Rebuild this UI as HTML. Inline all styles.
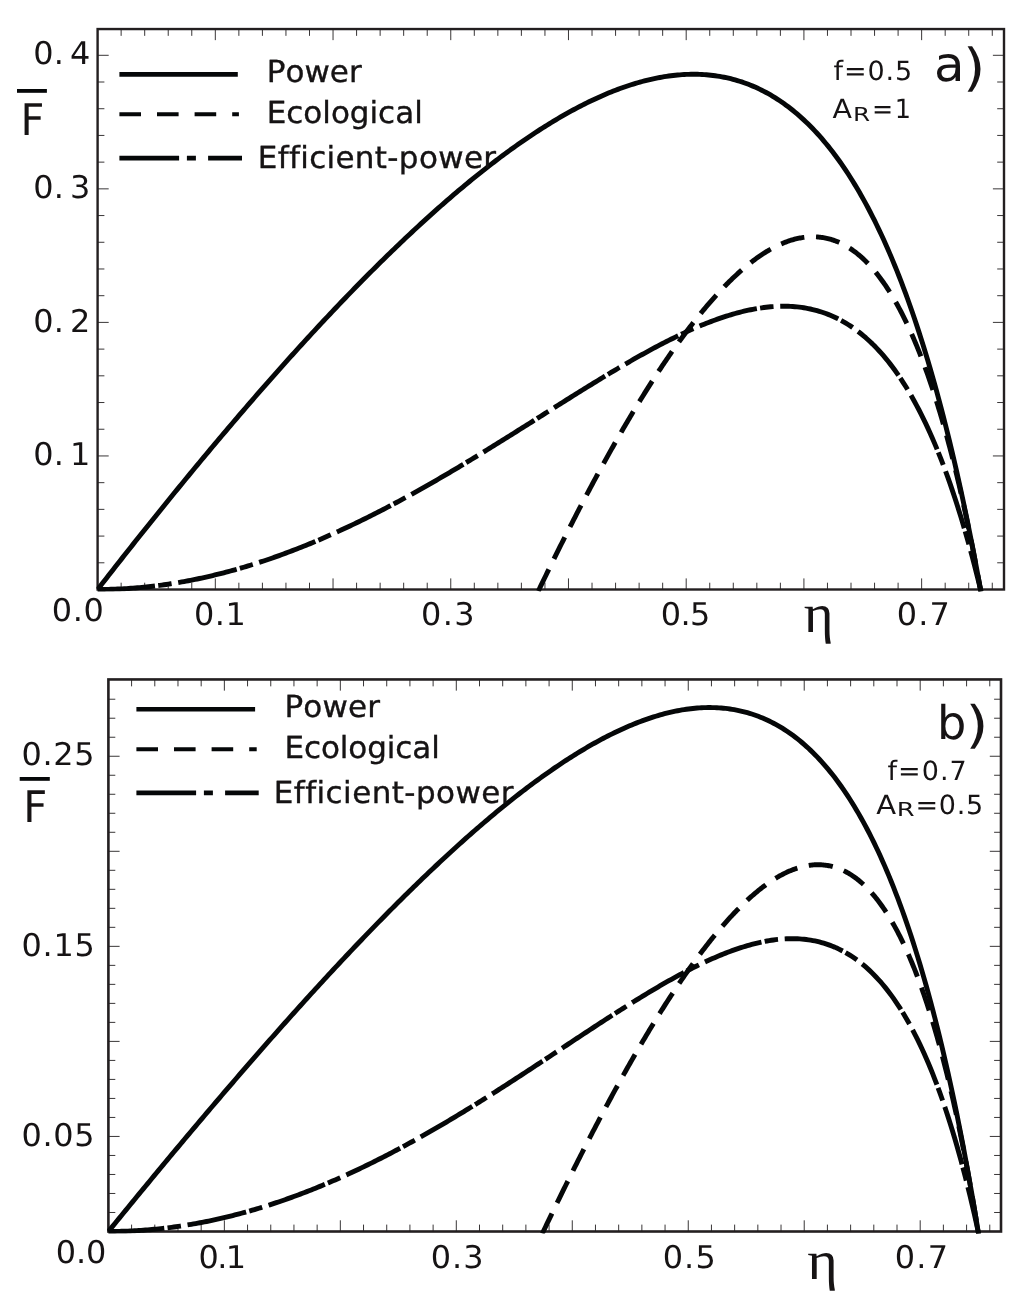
<!DOCTYPE html>
<html lang="en"><head><meta charset="utf-8"><title>Objective functions vs efficiency</title>
<style>
html,body{margin:0;padding:0;background:#fff;overflow:hidden}
svg{display:block;will-change:transform;filter:opacity(1)}
text{fill:#161314;text-rendering:geometricPrecision;font-kerning:none;font-variant-ligatures:none;white-space:pre}
</style></head><body>
<svg width="1024" height="1309" viewBox="0 0 1024 1309">
<rect width="1024" height="1309" fill="#fff"/>
<rect x="97.60" y="29.05" width="906.40" height="560.45" fill="none" stroke="#231f20" stroke-width="2.4"/>
<path d="M121.14 589.50v-6.80M121.14 29.05v6.80M144.69 589.50v-6.80M144.69 29.05v6.80M168.23 589.50v-6.80M168.23 29.05v6.80M191.78 589.50v-6.80M191.78 29.05v6.80M215.32 589.50v-11.10M215.32 29.05v11.10M238.86 589.50v-6.80M238.86 29.05v6.80M262.41 589.50v-6.80M262.41 29.05v6.80M285.95 589.50v-6.80M285.95 29.05v6.80M309.50 589.50v-6.80M309.50 29.05v6.80M333.04 589.50v-11.10M333.04 29.05v11.10M356.58 589.50v-6.80M356.58 29.05v6.80M380.13 589.50v-6.80M380.13 29.05v6.80M403.67 589.50v-6.80M403.67 29.05v6.80M427.22 589.50v-6.80M427.22 29.05v6.80M450.76 589.50v-11.10M450.76 29.05v11.10M474.30 589.50v-6.80M474.30 29.05v6.80M497.85 589.50v-6.80M497.85 29.05v6.80M521.39 589.50v-6.80M521.39 29.05v6.80M544.94 589.50v-6.80M544.94 29.05v6.80M568.48 589.50v-11.10M568.48 29.05v11.10M592.02 589.50v-6.80M592.02 29.05v6.80M615.57 589.50v-6.80M615.57 29.05v6.80M639.11 589.50v-6.80M639.11 29.05v6.80M662.66 589.50v-6.80M662.66 29.05v6.80M686.20 589.50v-11.10M686.20 29.05v11.10M709.74 589.50v-6.80M709.74 29.05v6.80M733.29 589.50v-6.80M733.29 29.05v6.80M756.83 589.50v-6.80M756.83 29.05v6.80M780.38 589.50v-6.80M780.38 29.05v6.80M803.92 589.50v-11.10M803.92 29.05v11.10M827.46 589.50v-6.80M827.46 29.05v6.80M851.01 589.50v-6.80M851.01 29.05v6.80M874.55 589.50v-6.80M874.55 29.05v6.80M898.10 589.50v-6.80M898.10 29.05v6.80M921.64 589.50v-11.10M921.64 29.05v11.10M945.18 589.50v-6.80M945.18 29.05v6.80M968.73 589.50v-6.80M968.73 29.05v6.80M992.27 589.50v-6.80M992.27 29.05v6.80M97.60 562.79h6.80M1004.00 562.79h-6.80M97.60 536.08h6.80M1004.00 536.08h-6.80M97.60 509.37h6.80M1004.00 509.37h-6.80M97.60 482.66h6.80M1004.00 482.66h-6.80M97.60 455.95h11.10M1004.00 455.95h-11.10M97.60 429.24h6.80M1004.00 429.24h-6.80M97.60 402.53h6.80M1004.00 402.53h-6.80M97.60 375.82h6.80M1004.00 375.82h-6.80M97.60 349.11h6.80M1004.00 349.11h-6.80M97.60 322.40h11.10M1004.00 322.40h-11.10M97.60 295.69h6.80M1004.00 295.69h-6.80M97.60 268.98h6.80M1004.00 268.98h-6.80M97.60 242.27h6.80M1004.00 242.27h-6.80M97.60 215.56h6.80M1004.00 215.56h-6.80M97.60 188.85h11.10M1004.00 188.85h-11.10M97.60 162.14h6.80M1004.00 162.14h-6.80M97.60 135.43h6.80M1004.00 135.43h-6.80M97.60 108.72h6.80M1004.00 108.72h-6.80M97.60 82.01h6.80M1004.00 82.01h-6.80M97.60 55.30h11.10M1004.00 55.30h-11.10" fill="none" stroke="#231f20" stroke-width="0.9"/>
<clipPath id="ca"><rect x="96.4" y="28" width="908.8" height="563.4"/></clipPath><clipPath id="cb"><rect x="107.1" y="678" width="895.2" height="555.5"/></clipPath>
<polyline points="97.60,589.50 99.81,589.49 102.03,589.48 104.24,589.45 106.46,589.41 108.67,589.37 110.88,589.31 113.10,589.24 115.31,589.16 117.52,589.07 119.74,588.97 121.95,588.86 124.17,588.73 126.38,588.60 128.59,588.46 130.81,588.31 133.02,588.14 135.23,587.97 137.45,587.78 139.66,587.59 141.88,587.38 144.09,587.17 146.30,586.94 148.52,586.71 150.73,586.46 152.94,586.21 155.16,585.94 157.37,585.66 159.58,585.38 161.80,585.08 164.01,584.77 166.23,584.46 168.44,584.13 170.65,583.79 172.87,583.44 175.08,583.09 177.29,582.72 179.51,582.34 181.72,581.96 183.94,581.56 186.15,581.15 188.36,580.74 190.58,580.31 192.79,579.88 195.00,579.43 197.22,578.98 199.43,578.51 201.65,578.04 203.86,577.55 206.07,577.06 208.29,576.56 210.50,576.04 212.71,575.52 214.93,574.99 217.14,574.45 219.35,573.90 221.57,573.34 223.78,572.77 226.00,572.19 228.21,571.60 230.42,571.00 232.64,570.40 234.85,569.78 237.06,569.16 239.28,568.52 241.49,567.88 243.71,567.23 245.92,566.57 248.13,565.90 250.35,565.22 252.56,564.53 254.77,563.83 256.99,563.13 259.20,562.41 261.42,561.69 263.63,560.96 265.84,560.22 268.06,559.47 270.27,558.71 272.48,557.94 274.70,557.16 276.91,556.38 279.13,555.59 281.34,554.79 283.55,553.98 285.77,553.16 287.98,552.33 290.19,551.50 292.41,550.65 294.62,549.80 296.83,548.94 299.05,548.08 301.26,547.20 303.48,546.32 305.69,545.42 307.90,544.53 310.12,543.62 312.33,542.70 314.54,541.78 316.76,540.85 318.97,539.91 321.19,538.96 323.40,538.01 325.61,537.04 327.83,536.07 330.04,535.09 332.25,534.11 334.47,533.12 336.68,532.12 338.90,531.11 341.11,530.09 343.32,529.07 345.54,528.04 347.75,527.01 349.96,525.96 352.18,524.91 354.39,523.86 356.60,522.79 358.82,521.72 361.03,520.64 363.25,519.55 365.46,518.46 367.67,517.36 369.89,516.26 372.10,515.15 374.31,514.03 376.53,512.90 378.74,511.77 380.96,510.63 383.17,509.49 385.38,508.34 387.60,507.18 389.81,506.02 392.02,504.85 394.24,503.67 396.45,502.49 398.67,501.31 400.88,500.11 403.09,498.91 405.31,497.71 407.52,496.50 409.73,495.28 411.95,494.06 414.16,492.84 416.37,491.60 418.59,490.37 420.80,489.12 423.02,487.88 425.23,486.62 427.44,485.37 429.66,484.10 431.87,482.84 434.08,481.56 436.30,480.29 438.51,479.00 440.73,477.72 442.94,476.43 445.15,475.13 447.37,473.83 449.58,472.53 451.79,471.22 454.01,469.90 456.22,468.59 458.44,467.27 460.65,465.94 462.86,464.61 465.08,463.28 467.29,461.95 469.50,460.61 471.72,459.26 473.93,457.92 476.14,456.57 478.36,455.22 480.57,453.86 482.79,452.50 485.00,451.14 487.21,449.78 489.43,448.41 491.64,447.04 493.85,445.67 496.07,444.29 498.28,442.92 500.50,441.54 502.71,440.16 504.92,438.77 507.14,437.39 509.35,436.00 511.56,434.61 513.78,433.22 515.99,431.83 518.21,430.44 520.42,429.04 522.63,427.65 524.85,426.25 527.06,424.85 529.27,423.46 531.49,422.06 533.70,420.66 535.91,419.26 538.13,417.86 540.34,416.46 542.56,415.06 544.77,413.66 546.98,412.26 549.20,410.86 551.41,409.46 553.62,408.06 555.84,406.67 558.05,405.27 560.27,403.87 562.48,402.48 564.69,401.09 566.91,399.70 569.12,398.31 571.33,396.92 573.55,395.53 575.76,394.15 577.98,392.77 580.19,391.39 582.40,390.01 584.62,388.64 586.83,387.27 589.04,385.90 591.26,384.54 593.47,383.18 595.68,381.82 597.90,380.47 600.11,379.12 602.33,377.77 604.54,376.43 606.75,375.10 608.97,373.76 611.18,372.44 613.39,371.12 615.61,369.80 617.82,368.49 620.04,367.19 622.25,365.89 624.46,364.59 626.68,363.31 628.89,362.03 631.10,360.75 633.32,359.49 635.53,358.23 637.75,356.98 639.96,355.73 642.17,354.50 644.39,353.27 646.60,352.05 648.81,350.84 651.03,349.64 653.24,348.45 655.45,347.27 657.67,346.09 659.88,344.93 662.10,343.78 664.31,342.63 666.52,341.50 668.74,340.38 670.95,339.27 673.16,338.18 675.38,337.09 677.59,336.02 679.81,334.96 682.02,333.91 684.23,332.87 686.45,331.85 688.66,330.84 690.87,329.85 693.09,328.87 695.30,327.91 697.52,326.96 699.73,326.03 701.94,325.11 704.16,324.21 706.37,323.32 708.58,322.46 710.80,321.61 713.01,320.77 715.22,319.96 717.44,319.16 719.65,318.39 721.87,317.63 724.08,316.89 726.29,316.17 728.51,315.48 730.72,314.80 732.93,314.15 735.15,313.51 737.36,312.90 739.58,312.32 741.79,311.75 744.00,311.22 746.22,310.70 748.43,310.21 750.64,309.75 752.86,309.31 755.07,308.90 757.29,308.51 759.50,308.15 761.71,307.83 763.93,307.52 766.14,307.25 768.35,307.01 770.57,306.80 772.78,306.62 774.99,306.48 777.21,306.36 779.42,306.28 781.64,306.23 783.85,306.22 786.06,306.24 788.28,306.30 790.49,306.39 792.70,306.53 794.92,306.70 797.13,306.91 799.35,307.15 801.56,307.44 803.77,307.77 805.99,308.15 808.20,308.56 810.41,309.02 812.63,309.53 814.84,310.08 817.06,310.67 819.27,311.32 821.48,312.01 823.70,312.75 825.91,313.54 828.12,314.39 830.34,315.28 832.55,316.23 834.77,317.24 836.98,318.30 839.19,319.42 841.41,320.59 843.62,321.83 845.83,323.12 848.05,324.48 850.26,325.90 852.47,327.39 854.69,328.94 856.90,330.55 859.12,332.24 861.33,334.00 863.54,335.82 865.76,337.72 867.97,339.70 870.18,341.75 872.40,343.87 874.61,346.08 876.83,348.37 879.04,350.74 881.25,353.19 883.47,355.73 885.68,358.36 887.89,361.08 890.11,363.89 892.32,366.79 894.54,369.79 896.75,372.89 898.96,376.09 901.18,379.39 903.39,382.79 905.60,386.31 907.82,389.93 910.03,393.66 912.24,397.51 914.46,401.47 916.67,405.55 918.89,409.76 921.10,414.09 923.31,418.54 925.53,423.13 927.74,427.86 929.95,432.71 932.17,437.71 934.38,442.86 936.60,448.15 938.81,453.59 941.02,459.18 943.24,464.93 945.45,470.85 947.66,476.93 949.88,483.17 952.09,489.60 954.31,496.20 956.52,502.98 958.73,509.95 960.95,517.11 963.16,524.47 965.37,532.03 967.59,539.79 969.80,547.77 972.01,555.96 974.23,564.38 976.44,573.03 978.66,581.92 980.87,591.04" fill="none" stroke="#050708" stroke-width="4.9" stroke-linejoin="round" stroke-dasharray="60 3.3 13.5 6.7" stroke-dashoffset="2.5" clip-path="url(#ca)"/>
<polyline points="538.31,591.03 539.42,588.72 540.53,586.42 541.64,584.12 542.75,581.82 543.86,579.53 544.97,577.25 546.08,574.96 547.19,572.69 548.30,570.41 549.41,568.15 550.52,565.88 551.62,563.62 552.73,561.37 553.84,559.12 554.95,556.87 556.06,554.63 557.17,552.40 558.28,550.17 559.39,547.94 560.50,545.72 561.61,543.50 562.72,541.29 563.83,539.09 564.93,536.88 566.04,534.69 567.15,532.49 568.26,530.31 569.37,528.12 570.48,525.95 571.59,523.78 572.70,521.61 573.81,519.45 574.92,517.29 576.03,515.14 577.14,512.99 578.24,510.85 579.35,508.71 580.46,506.58 581.57,504.46 582.68,502.34 583.79,500.22 584.90,498.11 586.01,496.01 587.12,493.91 588.23,491.81 589.34,489.73 590.45,487.64 591.55,485.56 592.66,483.49 593.77,481.43 594.88,479.37 595.99,477.31 597.10,475.26 598.21,473.22 599.32,471.18 600.43,469.15 601.54,467.12 602.65,465.10 603.76,463.08 604.86,461.07 605.97,459.07 607.08,457.07 608.19,455.08 609.30,453.10 610.41,451.12 611.52,449.14 612.63,447.18 613.74,445.21 614.85,443.26 615.96,441.31 617.07,439.37 618.17,437.43 619.28,435.50 620.39,433.57 621.50,431.66 622.61,429.74 623.72,427.84 624.83,425.94 625.94,424.05 627.05,422.16 628.16,420.28 629.27,418.41 630.37,416.54 631.48,414.68 632.59,412.83 633.70,410.98 634.81,409.14 635.92,407.31 637.03,405.48 638.14,403.66 639.25,401.85 640.36,400.05 641.47,398.25 642.58,396.46 643.68,394.67 644.79,392.89 645.90,391.12 647.01,389.36 648.12,387.60 649.23,385.85 650.34,384.11 651.45,382.38 652.56,380.65 653.67,378.93 654.78,377.22 655.89,375.51 656.99,373.82 658.10,372.13 659.21,370.44 660.32,368.77 661.43,367.10 662.54,365.44 663.65,363.79 664.76,362.15 665.87,360.51 666.98,358.88 668.09,357.26 669.20,355.65 670.30,354.05 671.41,352.45 672.52,350.86 673.63,349.28 674.74,347.71 675.85,346.15 676.96,344.59 678.07,343.04 679.18,341.51 680.29,339.98 681.40,338.45 682.51,336.94 683.61,335.44 684.72,333.94 685.83,332.46 686.94,330.98 688.05,329.51 689.16,328.05 690.27,326.60 691.38,325.15 692.49,323.72 693.60,322.29 694.71,320.88 695.82,319.47 696.92,318.08 698.03,316.69 699.14,315.31 700.25,313.94 701.36,312.58 702.47,311.23 703.58,309.89 704.69,308.56 705.80,307.24 706.91,305.93 708.02,304.63 709.13,303.33 710.23,302.05 711.34,300.78 712.45,299.52 713.56,298.27 714.67,297.03 715.78,295.80 716.89,294.57 718.00,293.36 719.11,292.16 720.22,290.97 721.33,289.80 722.44,288.63 723.54,287.47 724.65,286.32 725.76,285.19 726.87,284.06 727.98,282.95 729.09,281.84 730.20,280.75 731.31,279.67 732.42,278.60 733.53,277.54 734.64,276.50 735.75,275.46 736.85,274.44 737.96,273.43 739.07,272.42 740.18,271.44 741.29,270.46 742.40,269.49 743.51,268.54 744.62,267.60 745.73,266.67 746.84,265.76 747.95,264.85 749.06,263.96 750.16,263.08 751.27,262.22 752.38,261.36 753.49,260.52 754.60,259.69 755.71,258.88 756.82,258.08 757.93,257.29 759.04,256.51 760.15,255.75 761.26,255.00 762.37,254.26 763.47,253.54 764.58,252.83 765.69,252.14 766.80,251.46 767.91,250.79 769.02,250.14 770.13,249.50 771.24,248.88 772.35,248.26 773.46,247.67 774.57,247.09 775.67,246.52 776.78,245.97 777.89,245.43 779.00,244.91 780.11,244.40 781.22,243.91 782.33,243.44 783.44,242.98 784.55,242.53 785.66,242.10 786.77,241.69 787.88,241.29 788.98,240.91 790.09,240.54 791.20,240.19 792.31,239.86 793.42,239.54 794.53,239.24 795.64,238.95 796.75,238.69 797.86,238.44 798.97,238.20 800.08,237.99 801.19,237.79 802.29,237.61 803.40,237.44 804.51,237.30 805.62,237.17 806.73,237.06 807.84,236.97 808.95,236.89 810.06,236.84 811.17,236.80 812.28,236.78 813.39,236.78 814.50,236.80 815.60,236.84 816.71,236.90 817.82,236.97 818.93,237.07 820.04,237.19 821.15,237.32 822.26,237.48 823.37,237.66 824.48,237.85 825.59,238.07 826.70,238.31 827.81,238.57 828.91,238.85 830.02,239.15 831.13,239.47 832.24,239.81 833.35,240.18 834.46,240.56 835.57,240.97 836.68,241.40 837.79,241.86 838.90,242.33 840.01,242.83 841.12,243.36 842.22,243.90 843.33,244.47 844.44,245.06 845.55,245.68 846.66,246.32 847.77,246.98 848.88,247.67 849.99,248.38 851.10,249.12 852.21,249.88 853.32,250.67 854.43,251.48 855.53,252.32 856.64,253.18 857.75,254.07 858.86,254.99 859.97,255.93 861.08,256.90 862.19,257.90 863.30,258.92 864.41,259.97 865.52,261.05 866.63,262.16 867.74,263.29 868.84,264.46 869.95,265.65 871.06,266.87 872.17,268.12 873.28,269.40 874.39,270.70 875.50,272.04 876.61,273.41 877.72,274.81 878.83,276.24 879.94,277.70 881.05,279.20 882.15,280.72 883.26,282.28 884.37,283.86 885.48,285.48 886.59,287.14 887.70,288.82 888.81,290.54 889.92,292.30 891.03,294.09 892.14,295.91 893.25,297.77 894.36,299.66 895.46,301.58 896.57,303.55 897.68,305.55 898.79,307.58 899.90,309.65 901.01,311.76 902.12,313.91 903.23,316.10 904.34,318.32 905.45,320.58 906.56,322.88 907.67,325.22 908.77,327.60 909.88,330.02 910.99,332.48 912.10,334.98 913.21,337.52 914.32,340.11 915.43,342.73 916.54,345.40 917.65,348.11 918.76,350.87 919.87,353.67 920.97,356.51 922.08,359.40 923.19,362.33 924.30,365.31 925.41,368.34 926.52,371.41 927.63,374.53 928.74,377.70 929.85,380.91 930.96,384.18 932.07,387.49 933.18,390.86 934.28,394.27 935.39,397.73 936.50,401.25 937.61,404.82 938.72,408.44 939.83,412.11 940.94,415.84 942.05,419.62 943.16,423.46 944.27,427.35 945.38,431.30 946.49,435.31 947.59,439.37 948.70,443.49 949.81,447.67 950.92,451.91 952.03,456.21 953.14,460.57 954.25,464.99 955.36,469.47 956.47,474.02 957.58,478.63 958.69,483.30 959.80,488.04 960.90,492.85 962.01,497.72 963.12,502.66 964.23,507.67 965.34,512.74 966.45,517.89 967.56,523.11 968.67,528.39 969.78,533.76 970.89,539.19 972.00,544.70 973.11,550.28 974.21,555.94 975.32,561.68 976.43,567.49 977.54,573.39 978.65,579.36 979.76,585.42 980.87,591.55" fill="none" stroke="#050708" stroke-width="4.9" stroke-linejoin="round" stroke-dasharray="24.1 11.7" stroke-dashoffset="0" clip-path="url(#ca)"/>
<polyline points="97.60,589.50 99.81,586.65 102.03,583.81 104.24,580.97 106.45,578.14 108.67,575.30 110.88,572.47 113.10,569.65 115.31,566.83 117.52,564.01 119.74,561.19 121.95,558.38 124.16,555.58 126.38,552.77 128.59,549.97 130.81,547.18 133.02,544.38 135.23,541.59 137.45,538.81 139.66,536.03 141.87,533.25 144.09,530.48 146.30,527.71 148.52,524.94 150.73,522.18 152.94,519.42 155.16,516.67 157.37,513.92 159.58,511.17 161.80,508.43 164.01,505.69 166.22,502.96 168.44,500.23 170.65,497.51 172.87,494.79 175.08,492.07 177.29,489.36 179.51,486.65 181.72,483.94 183.93,481.24 186.15,478.55 188.36,475.85 190.58,473.17 192.79,470.48 195.00,467.81 197.22,465.13 199.43,462.46 201.64,459.80 203.86,457.14 206.07,454.48 208.29,451.83 210.50,449.18 212.71,446.54 214.93,443.90 217.14,441.27 219.35,438.64 221.57,436.02 223.78,433.40 226.00,430.79 228.21,428.18 230.42,425.57 232.64,422.98 234.85,420.38 237.06,417.79 239.28,415.21 241.49,412.63 243.70,410.05 245.92,407.48 248.13,404.92 250.35,402.36 252.56,399.81 254.77,397.26 256.99,394.72 259.20,392.18 261.41,389.65 263.63,387.12 265.84,384.60 268.06,382.08 270.27,379.57 272.48,377.06 274.70,374.56 276.91,372.07 279.12,369.58 281.34,367.09 283.55,364.62 285.77,362.15 287.98,359.68 290.19,357.22 292.41,354.76 294.62,352.32 296.83,349.87 299.05,347.44 301.26,345.00 303.47,342.58 305.69,340.16 307.90,337.75 310.12,335.34 312.33,332.94 314.54,330.55 316.76,328.16 318.97,325.78 321.18,323.40 323.40,321.03 325.61,318.67 327.83,316.31 330.04,313.96 332.25,311.62 334.47,309.29 336.68,306.96 338.89,304.63 341.11,302.32 343.32,300.01 345.54,297.71 347.75,295.41 349.96,293.12 352.18,290.84 354.39,288.57 356.60,286.30 358.82,284.04 361.03,281.79 363.24,279.54 365.46,277.30 367.67,275.07 369.89,272.85 372.10,270.63 374.31,268.43 376.53,266.22 378.74,264.03 380.95,261.85 383.17,259.67 385.38,257.50 387.60,255.34 389.81,253.18 392.02,251.04 394.24,248.90 396.45,246.77 398.66,244.65 400.88,242.54 403.09,240.43 405.31,238.34 407.52,236.25 409.73,234.17 411.95,232.10 414.16,230.04 416.37,227.98 418.59,225.94 420.80,223.90 423.02,221.88 425.23,219.86 427.44,217.85 429.66,215.85 431.87,213.86 434.08,211.88 436.30,209.91 438.51,207.94 440.72,205.99 442.94,204.05 445.15,202.12 447.37,200.19 449.58,198.28 451.79,196.37 454.01,194.48 456.22,192.60 458.43,190.72 460.65,188.86 462.86,187.01 465.08,185.16 467.29,183.33 469.50,181.51 471.72,179.70 473.93,177.90 476.14,176.11 478.36,174.33 480.57,172.56 482.79,170.81 485.00,169.06 487.21,167.33 489.43,165.61 491.64,163.90 493.85,162.20 496.07,160.51 498.28,158.84 500.49,157.17 502.71,155.52 504.92,153.88 507.14,152.26 509.35,150.64 511.56,149.04 513.78,147.45 515.99,145.87 518.20,144.31 520.42,142.76 522.63,141.22 524.85,139.70 527.06,138.19 529.27,136.69 531.49,135.20 533.70,133.73 535.91,132.28 538.13,130.83 540.34,129.40 542.56,127.99 544.77,126.59 546.98,125.20 549.20,123.83 551.41,122.47 553.62,121.13 555.84,119.80 558.05,118.49 560.27,117.20 562.48,115.92 564.69,114.65 566.91,113.40 569.12,112.17 571.33,110.95 573.55,109.75 575.76,108.56 577.97,107.39 580.19,106.24 582.40,105.11 584.62,103.99 586.83,102.89 589.04,101.80 591.26,100.74 593.47,99.69 595.68,98.66 597.90,97.65 600.11,96.65 602.33,95.68 604.54,94.72 606.75,93.78 608.97,92.86 611.18,91.96 613.39,91.08 615.61,90.22 617.82,89.38 620.04,88.56 622.25,87.76 624.46,86.98 626.68,86.22 628.89,85.48 631.10,84.76 633.32,84.07 635.53,83.39 637.74,82.74 639.96,82.11 642.17,81.50 644.39,80.91 646.60,80.35 648.81,79.81 651.03,79.29 653.24,78.80 655.45,78.33 657.67,77.89 659.88,77.47 662.10,77.07 664.31,76.70 666.52,76.35 668.74,76.03 670.95,75.74 673.16,75.47 675.38,75.23 677.59,75.01 679.81,74.82 682.02,74.66 684.23,74.53 686.45,74.42 688.66,74.34 690.87,74.29 693.09,74.27 695.30,74.28 697.51,74.32 699.73,74.39 701.94,74.49 704.16,74.62 706.37,74.78 708.58,74.98 710.80,75.20 713.01,75.46 715.22,75.75 717.44,76.07 719.65,76.43 721.87,76.82 724.08,77.25 726.29,77.71 728.51,78.20 730.72,78.73 732.93,79.30 735.15,79.91 737.36,80.55 739.58,81.23 741.79,81.94 744.00,82.70 746.22,83.50 748.43,84.33 750.64,85.21 752.86,86.12 755.07,87.08 757.29,88.08 759.50,89.12 761.71,90.21 763.93,91.33 766.14,92.51 768.35,93.72 770.57,94.99 772.78,96.30 774.99,97.65 777.21,99.06 779.42,100.51 781.64,102.01 783.85,103.56 786.06,105.16 788.28,106.81 790.49,108.51 792.70,110.27 794.92,112.08 797.13,113.94 799.35,115.86 801.56,117.83 803.77,119.86 805.99,121.95 808.20,124.09 810.41,126.30 812.63,128.56 814.84,130.89 817.06,133.27 819.27,135.72 821.48,138.24 823.70,140.82 825.91,143.46 828.12,146.17 830.34,148.95 832.55,151.80 834.76,154.72 836.98,157.71 839.19,160.77 841.41,163.91 843.62,167.12 845.83,170.41 848.05,173.77 850.26,177.22 852.47,180.74 854.69,184.35 856.90,188.04 859.12,191.81 861.33,195.67 863.54,199.62 865.76,203.65 867.97,207.78 870.18,211.99 872.40,216.31 874.61,220.71 876.83,225.22 879.04,229.82 881.25,234.52 883.47,239.33 885.68,244.24 887.89,249.25 890.11,254.38 892.32,259.61 894.53,264.96 896.75,270.42 898.96,276.00 901.18,281.70 903.39,287.52 905.60,293.46 907.82,299.53 910.03,305.73 912.24,312.06 914.46,318.52 916.67,325.12 918.89,331.86 921.10,338.74 923.31,345.77 925.53,352.95 927.74,360.28 929.95,367.76 932.17,375.40 934.38,383.20 936.60,391.17 938.81,399.30 941.02,407.61 943.24,416.09 945.45,424.76 947.66,433.60 949.88,442.64 952.09,451.87 954.31,461.29 956.52,470.92 958.73,480.75 960.95,490.79 963.16,501.05 965.37,511.53 967.59,522.24 969.80,533.18 972.01,544.35 974.23,555.77 976.44,567.44 978.66,579.37 980.87,591.55" fill="none" stroke="#050708" stroke-width="4.9" stroke-linejoin="round" clip-path="url(#ca)"/>
<rect x="108.40" y="679.45" width="892.60" height="552.05" fill="none" stroke="#231f20" stroke-width="2.6"/>
<path d="M131.59 1231.50v-6.90M131.59 679.45v6.90M154.79 1231.50v-6.90M154.79 679.45v6.90M177.98 1231.50v-6.90M177.98 679.45v6.90M201.18 1231.50v-6.90M201.18 679.45v6.90M224.37 1231.50v-11.20M224.37 679.45v11.20M247.56 1231.50v-6.90M247.56 679.45v6.90M270.76 1231.50v-6.90M270.76 679.45v6.90M293.95 1231.50v-6.90M293.95 679.45v6.90M317.15 1231.50v-6.90M317.15 679.45v6.90M340.34 1231.50v-11.20M340.34 679.45v11.20M363.53 1231.50v-6.90M363.53 679.45v6.90M386.73 1231.50v-6.90M386.73 679.45v6.90M409.92 1231.50v-6.90M409.92 679.45v6.90M433.12 1231.50v-6.90M433.12 679.45v6.90M456.31 1231.50v-11.20M456.31 679.45v11.20M479.50 1231.50v-6.90M479.50 679.45v6.90M502.70 1231.50v-6.90M502.70 679.45v6.90M525.89 1231.50v-6.90M525.89 679.45v6.90M549.09 1231.50v-6.90M549.09 679.45v6.90M572.28 1231.50v-11.20M572.28 679.45v11.20M595.47 1231.50v-6.90M595.47 679.45v6.90M618.67 1231.50v-6.90M618.67 679.45v6.90M641.86 1231.50v-6.90M641.86 679.45v6.90M665.06 1231.50v-6.90M665.06 679.45v6.90M688.25 1231.50v-11.20M688.25 679.45v11.20M711.44 1231.50v-6.90M711.44 679.45v6.90M734.64 1231.50v-6.90M734.64 679.45v6.90M757.83 1231.50v-6.90M757.83 679.45v6.90M781.03 1231.50v-6.90M781.03 679.45v6.90M804.22 1231.50v-11.20M804.22 679.45v11.20M827.41 1231.50v-6.90M827.41 679.45v6.90M850.61 1231.50v-6.90M850.61 679.45v6.90M873.80 1231.50v-6.90M873.80 679.45v6.90M897.00 1231.50v-6.90M897.00 679.45v6.90M920.19 1231.50v-11.20M920.19 679.45v11.20M943.38 1231.50v-6.90M943.38 679.45v6.90M966.58 1231.50v-6.90M966.58 679.45v6.90M989.77 1231.50v-6.90M989.77 679.45v6.90M108.40 1212.49h6.90M1001.00 1212.49h-6.90M108.40 1193.48h6.90M1001.00 1193.48h-6.90M108.40 1174.47h6.90M1001.00 1174.47h-6.90M108.40 1155.46h6.90M1001.00 1155.46h-6.90M108.40 1136.45h11.20M1001.00 1136.45h-11.20M108.40 1117.44h6.90M1001.00 1117.44h-6.90M108.40 1098.43h6.90M1001.00 1098.43h-6.90M108.40 1079.42h6.90M1001.00 1079.42h-6.90M108.40 1060.41h6.90M1001.00 1060.41h-6.90M108.40 1041.40h11.20M1001.00 1041.40h-11.20M108.40 1022.39h6.90M1001.00 1022.39h-6.90M108.40 1003.38h6.90M1001.00 1003.38h-6.90M108.40 984.37h6.90M1001.00 984.37h-6.90M108.40 965.36h6.90M1001.00 965.36h-6.90M108.40 946.35h11.20M1001.00 946.35h-11.20M108.40 927.34h6.90M1001.00 927.34h-6.90M108.40 908.33h6.90M1001.00 908.33h-6.90M108.40 889.32h6.90M1001.00 889.32h-6.90M108.40 870.31h6.90M1001.00 870.31h-6.90M108.40 851.30h11.20M1001.00 851.30h-11.20M108.40 832.29h6.90M1001.00 832.29h-6.90M108.40 813.28h6.90M1001.00 813.28h-6.90M108.40 794.27h6.90M1001.00 794.27h-6.90M108.40 775.26h6.90M1001.00 775.26h-6.90M108.40 756.25h11.20M1001.00 756.25h-11.20M108.40 737.24h6.90M1001.00 737.24h-6.90M108.40 718.23h6.90M1001.00 718.23h-6.90M108.40 699.22h6.90M1001.00 699.22h-6.90" fill="none" stroke="#231f20" stroke-width="0.9"/>
<polyline points="108.40,1231.50 110.58,1231.49 112.76,1231.48 114.94,1231.45 117.12,1231.42 119.31,1231.37 121.49,1231.32 123.67,1231.25 125.85,1231.18 128.03,1231.09 130.21,1231.00 132.39,1230.89 134.57,1230.78 136.75,1230.65 138.93,1230.52 141.11,1230.37 143.29,1230.22 145.47,1230.05 147.66,1229.88 149.84,1229.69 152.02,1229.50 154.20,1229.30 156.38,1229.08 158.56,1228.86 160.74,1228.62 162.92,1228.38 165.10,1228.13 167.28,1227.86 169.46,1227.59 171.64,1227.31 173.83,1227.02 176.01,1226.72 178.19,1226.40 180.37,1226.08 182.55,1225.75 184.73,1225.41 186.91,1225.06 189.09,1224.70 191.27,1224.34 193.45,1223.96 195.63,1223.57 197.81,1223.17 200.00,1222.76 202.18,1222.35 204.36,1221.92 206.54,1221.49 208.72,1221.04 210.90,1220.59 213.08,1220.12 215.26,1219.65 217.44,1219.17 219.62,1218.68 221.80,1218.18 223.98,1217.67 226.16,1217.15 228.35,1216.62 230.53,1216.08 232.71,1215.53 234.89,1214.98 237.07,1214.41 239.25,1213.84 241.43,1213.25 243.61,1212.66 245.79,1212.06 247.97,1211.45 250.15,1210.83 252.33,1210.20 254.52,1209.56 256.70,1208.91 258.88,1208.26 261.06,1207.59 263.24,1206.92 265.42,1206.24 267.60,1205.55 269.78,1204.85 271.96,1204.14 274.14,1203.42 276.32,1202.69 278.50,1201.96 280.69,1201.22 282.87,1200.46 285.05,1199.70 287.23,1198.93 289.41,1198.16 291.59,1197.37 293.77,1196.57 295.95,1195.77 298.13,1194.96 300.31,1194.14 302.49,1193.31 304.67,1192.47 306.85,1191.63 309.04,1190.78 311.22,1189.91 313.40,1189.04 315.58,1188.17 317.76,1187.28 319.94,1186.39 322.12,1185.48 324.30,1184.57 326.48,1183.65 328.66,1182.73 330.84,1181.79 333.02,1180.85 335.21,1179.90 337.39,1178.94 339.57,1177.98 341.75,1177.00 343.93,1176.02 346.11,1175.03 348.29,1174.04 350.47,1173.03 352.65,1172.02 354.83,1171.00 357.01,1169.98 359.19,1168.94 361.38,1167.90 363.56,1166.85 365.74,1165.80 367.92,1164.73 370.10,1163.66 372.28,1162.59 374.46,1161.50 376.64,1160.41 378.82,1159.31 381.00,1158.20 383.18,1157.09 385.36,1155.97 387.54,1154.85 389.73,1153.71 391.91,1152.57 394.09,1151.43 396.27,1150.27 398.45,1149.11 400.63,1147.95 402.81,1146.77 404.99,1145.59 407.17,1144.41 409.35,1143.22 411.53,1142.02 413.71,1140.81 415.90,1139.60 418.08,1138.39 420.26,1137.16 422.44,1135.93 424.62,1134.70 426.80,1133.46 428.98,1132.21 431.16,1130.96 433.34,1129.70 435.52,1128.44 437.70,1127.17 439.88,1125.90 442.07,1124.62 444.25,1123.33 446.43,1122.04 448.61,1120.75 450.79,1119.44 452.97,1118.14 455.15,1116.83 457.33,1115.51 459.51,1114.19 461.69,1112.87 463.87,1111.54 466.05,1110.20 468.23,1108.86 470.42,1107.52 472.60,1106.17 474.78,1104.82 476.96,1103.46 479.14,1102.10 481.32,1100.74 483.50,1099.37 485.68,1098.00 487.86,1096.62 490.04,1095.24 492.22,1093.86 494.40,1092.47 496.59,1091.08 498.77,1089.68 500.95,1088.29 503.13,1086.89 505.31,1085.48 507.49,1084.07 509.67,1082.67 511.85,1081.25 514.03,1079.84 516.21,1078.42 518.39,1077.00 520.57,1075.58 522.76,1074.15 524.94,1072.73 527.12,1071.30 529.30,1069.87 531.48,1068.43 533.66,1067.00 535.84,1065.56 538.02,1064.12 540.20,1062.69 542.38,1061.25 544.56,1059.80 546.74,1058.36 548.92,1056.92 551.11,1055.47 553.29,1054.03 555.47,1052.59 557.65,1051.14 559.83,1049.69 562.01,1048.25 564.19,1046.80 566.37,1045.36 568.55,1043.91 570.73,1042.47 572.91,1041.02 575.09,1039.58 577.28,1038.14 579.46,1036.70 581.64,1035.26 583.82,1033.82 586.00,1032.38 588.18,1030.94 590.36,1029.51 592.54,1028.08 594.72,1026.65 596.90,1025.22 599.08,1023.80 601.26,1022.38 603.45,1020.96 605.63,1019.54 607.81,1018.13 609.99,1016.72 612.17,1015.31 614.35,1013.91 616.53,1012.51 618.71,1011.12 620.89,1009.73 623.07,1008.35 625.25,1006.97 627.43,1005.59 629.61,1004.22 631.80,1002.86 633.98,1001.50 636.16,1000.15 638.34,998.80 640.52,997.47 642.70,996.13 644.88,994.81 647.06,993.49 649.24,992.18 651.42,990.87 653.60,989.57 655.78,988.29 657.97,987.01 660.15,985.74 662.33,984.47 664.51,983.22 666.69,981.98 668.87,980.74 671.05,979.52 673.23,978.30 675.41,977.10 677.59,975.91 679.77,974.73 681.95,973.56 684.14,972.40 686.32,971.26 688.50,970.12 690.68,969.00 692.86,967.90 695.04,966.80 697.22,965.72 699.40,964.66 701.58,963.61 703.76,962.57 705.94,961.55 708.12,960.55 710.30,959.56 712.49,958.59 714.67,957.64 716.85,956.70 719.03,955.78 721.21,954.88 723.39,953.99 725.57,953.13 727.75,952.29 729.93,951.46 732.11,950.66 734.29,949.88 736.47,949.12 738.66,948.38 740.84,947.66 743.02,946.97 745.20,946.29 747.38,945.65 749.56,945.03 751.74,944.43 753.92,943.86 756.10,943.31 758.28,942.80 760.46,942.31 762.64,941.84 764.83,941.41 767.01,941.00 769.19,940.63 771.37,940.28 773.55,939.97 775.73,939.69 777.91,939.44 780.09,939.23 782.27,939.05 784.45,938.90 786.63,938.79 788.81,938.72 790.99,938.68 793.18,938.68 795.36,938.72 797.54,938.80 799.72,938.92 801.90,939.08 804.08,939.28 806.26,939.53 808.44,939.82 810.62,940.16 812.80,940.54 814.98,940.97 817.16,941.45 819.35,941.97 821.53,942.55 823.71,943.18 825.89,943.86 828.07,944.59 830.25,945.38 832.43,946.22 834.61,947.12 836.79,948.08 838.97,949.10 841.15,950.18 843.33,951.32 845.52,952.53 847.70,953.80 849.88,955.14 852.06,956.54 854.24,958.02 856.42,959.56 858.60,961.18 860.78,962.88 862.96,964.64 865.14,966.49 867.32,968.42 869.50,970.42 871.68,972.51 873.87,974.69 876.05,976.95 878.23,979.30 880.41,981.74 882.59,984.27 884.77,986.90 886.95,989.63 889.13,992.45 891.31,995.38 893.49,998.41 895.67,1001.55 897.85,1004.79 900.04,1008.15 902.22,1011.63 904.40,1015.22 906.58,1018.93 908.76,1022.76 910.94,1026.72 913.12,1030.81 915.30,1035.03 917.48,1039.38 919.66,1043.87 921.84,1048.51 924.02,1053.29 926.21,1058.22 928.39,1063.31 930.57,1068.55 932.75,1073.95 934.93,1079.52 937.11,1085.25 939.29,1091.16 941.47,1097.25 943.65,1103.52 945.83,1109.98 948.01,1116.63 950.19,1123.48 952.37,1130.53 954.56,1137.79 956.74,1145.27 958.92,1152.96 961.10,1160.88 963.28,1169.04 965.46,1177.43 967.64,1186.07 969.82,1194.96 972.00,1204.12 974.18,1213.54 976.36,1223.23 978.54,1233.21" fill="none" stroke="#050708" stroke-width="4.9" stroke-linejoin="round" stroke-dasharray="60 3.3 13.5 6.7" stroke-dashoffset="4.0" clip-path="url(#cb)"/>
<polyline points="542.31,1233.56 543.40,1231.26 544.49,1228.97 545.59,1226.69 546.68,1224.41 547.77,1222.13 548.87,1219.86 549.96,1217.59 551.05,1215.32 552.15,1213.06 553.24,1210.80 554.33,1208.55 555.43,1206.29 556.52,1204.05 557.61,1201.80 558.71,1199.57 559.80,1197.33 560.89,1195.10 561.99,1192.87 563.08,1190.65 564.17,1188.43 565.27,1186.22 566.36,1184.00 567.45,1181.80 568.55,1179.60 569.64,1177.40 570.73,1175.20 571.83,1173.01 572.92,1170.83 574.01,1168.65 575.11,1166.47 576.20,1164.30 577.29,1162.13 578.39,1159.96 579.48,1157.80 580.57,1155.65 581.67,1153.50 582.76,1151.35 583.85,1149.21 584.95,1147.07 586.04,1144.94 587.13,1142.81 588.23,1140.69 589.32,1138.57 590.41,1136.46 591.51,1134.35 592.60,1132.24 593.69,1130.14 594.79,1128.05 595.88,1125.96 596.97,1123.87 598.07,1121.79 599.16,1119.72 600.25,1117.64 601.35,1115.58 602.44,1113.52 603.53,1111.46 604.63,1109.41 605.72,1107.37 606.81,1105.33 607.91,1103.29 609.00,1101.26 610.09,1099.23 611.19,1097.21 612.28,1095.20 613.37,1093.19 614.47,1091.19 615.56,1089.19 616.65,1087.20 617.75,1085.21 618.84,1083.23 619.93,1081.25 621.03,1079.28 622.12,1077.31 623.21,1075.35 624.31,1073.40 625.40,1071.45 626.49,1069.51 627.59,1067.57 628.68,1065.64 629.77,1063.71 630.87,1061.79 631.96,1059.88 633.05,1057.97 634.15,1056.07 635.24,1054.17 636.33,1052.28 637.43,1050.40 638.52,1048.52 639.61,1046.65 640.71,1044.78 641.80,1042.92 642.89,1041.07 643.99,1039.22 645.08,1037.38 646.17,1035.55 647.27,1033.72 648.36,1031.90 649.45,1030.08 650.55,1028.27 651.64,1026.47 652.73,1024.68 653.83,1022.89 654.92,1021.11 656.01,1019.33 657.11,1017.56 658.20,1015.80 659.29,1014.05 660.39,1012.30 661.48,1010.56 662.57,1008.83 663.67,1007.10 664.76,1005.38 665.85,1003.67 666.95,1001.96 668.04,1000.27 669.13,998.58 670.23,996.89 671.32,995.22 672.41,993.55 673.51,991.89 674.60,990.24 675.69,988.59 676.79,986.95 677.88,985.32 678.97,983.70 680.07,982.08 681.16,980.48 682.25,978.88 683.35,977.29 684.44,975.70 685.53,974.13 686.63,972.56 687.72,971.00 688.81,969.45 689.91,967.91 691.00,966.38 692.09,964.85 693.19,963.34 694.28,961.83 695.37,960.33 696.47,958.84 697.56,957.35 698.65,955.88 699.75,954.41 700.84,952.96 701.93,951.51 703.03,950.07 704.12,948.64 705.21,947.22 706.31,945.81 707.40,944.41 708.49,943.02 709.59,941.63 710.68,940.26 711.77,938.89 712.87,937.54 713.96,936.19 715.05,934.86 716.15,933.53 717.24,932.22 718.33,930.91 719.43,929.61 720.52,928.33 721.61,927.05 722.71,925.79 723.80,924.53 724.89,923.29 725.99,922.05 727.08,920.83 728.17,919.61 729.27,918.41 730.36,917.22 731.45,916.03 732.55,914.86 733.64,913.70 734.73,912.55 735.83,911.42 736.92,910.29 738.01,909.17 739.11,908.07 740.20,906.98 741.29,905.89 742.39,904.82 743.48,903.77 744.57,902.72 745.67,901.69 746.76,900.66 747.85,899.65 748.95,898.65 750.04,897.67 751.13,896.69 752.23,895.73 753.32,894.78 754.41,893.84 755.51,892.92 756.60,892.01 757.69,891.11 758.79,890.22 759.88,889.35 760.97,888.49 762.07,887.65 763.16,886.81 764.25,885.99 765.35,885.19 766.44,884.40 767.53,883.62 768.63,882.85 769.72,882.10 770.81,881.37 771.91,880.64 773.00,879.93 774.09,879.24 775.19,878.56 776.28,877.90 777.37,877.25 778.47,876.61 779.56,875.99 780.65,875.39 781.75,874.80 782.84,874.22 783.93,873.66 785.03,873.12 786.12,872.59 787.21,872.08 788.31,871.58 789.40,871.10 790.49,870.64 791.59,870.19 792.68,869.76 793.77,869.35 794.87,868.95 795.96,868.57 797.05,868.20 798.15,867.86 799.24,867.53 800.33,867.22 801.43,866.92 802.52,866.64 803.61,866.39 804.71,866.14 805.80,865.92 806.89,865.72 807.99,865.53 809.08,865.36 810.17,865.22 811.27,865.09 812.36,864.98 813.45,864.88 814.55,864.81 815.64,864.76 816.73,864.73 817.83,864.71 818.92,864.72 820.01,864.75 821.11,864.80 822.20,864.87 823.29,864.96 824.39,865.07 825.48,865.20 826.57,865.35 827.67,865.53 828.76,865.72 829.85,865.94 830.95,866.18 832.04,866.44 833.13,866.73 834.23,867.04 835.32,867.37 836.41,867.72 837.51,868.10 838.60,868.50 839.69,868.92 840.79,869.37 841.88,869.84 842.97,870.34 844.07,870.86 845.16,871.40 846.25,871.98 847.35,872.57 848.44,873.19 849.53,873.84 850.63,874.51 851.72,875.21 852.81,875.94 853.91,876.69 855.00,877.47 856.09,878.28 857.19,879.11 858.28,879.98 859.37,880.87 860.47,881.78 861.56,882.73 862.65,883.71 863.75,884.71 864.84,885.74 865.93,886.81 867.03,887.90 868.12,889.03 869.21,890.18 870.31,891.36 871.40,892.58 872.49,893.83 873.59,895.11 874.68,896.42 875.77,897.76 876.87,899.14 877.96,900.55 879.05,901.99 880.15,903.46 881.24,904.97 882.33,906.52 883.43,908.10 884.52,909.71 885.61,911.36 886.71,913.05 887.80,914.77 888.89,916.52 889.99,918.32 891.08,920.15 892.17,922.02 893.27,923.93 894.36,925.87 895.45,927.86 896.55,929.88 897.64,931.94 898.73,934.04 899.83,936.19 900.92,938.37 902.01,940.60 903.11,942.86 904.20,945.17 905.29,947.53 906.38,949.92 907.48,952.36 908.57,954.84 909.66,957.37 910.76,959.94 911.85,962.56 912.94,965.23 914.04,967.94 915.13,970.69 916.22,973.50 917.32,976.35 918.41,979.25 919.50,982.20 920.60,985.21 921.69,988.26 922.78,991.36 923.88,994.51 924.97,997.72 926.06,1000.97 927.16,1004.29 928.25,1007.65 929.34,1011.07 930.44,1014.55 931.53,1018.08 932.62,1021.66 933.72,1025.31 934.81,1029.01 935.90,1032.77 937.00,1036.59 938.09,1040.47 939.18,1044.41 940.28,1048.41 941.37,1052.47 942.46,1056.60 943.56,1060.79 944.65,1065.04 945.74,1069.36 946.84,1073.75 947.93,1078.20 949.02,1082.72 950.12,1087.31 951.21,1091.97 952.30,1096.69 953.40,1101.49 954.49,1106.36 955.58,1111.31 956.68,1116.33 957.77,1121.42 958.86,1126.59 959.96,1131.83 961.05,1137.15 962.14,1142.56 963.24,1148.04 964.33,1153.60 965.42,1159.24 966.52,1164.97 967.61,1170.78 968.70,1176.68 969.80,1182.66 970.89,1188.73 971.98,1194.89 973.08,1201.14 974.17,1207.48 975.26,1213.91 976.36,1220.44 977.45,1227.06 978.54,1233.78" fill="none" stroke="#050708" stroke-width="4.9" stroke-linejoin="round" stroke-dasharray="24.2 11.7" stroke-dashoffset="1.9" clip-path="url(#cb)"/>
<polyline points="108.40,1231.50 110.58,1228.82 112.76,1226.14 114.94,1223.47 117.12,1220.79 119.30,1218.12 121.48,1215.45 123.67,1212.78 125.85,1210.12 128.03,1207.46 130.21,1204.79 132.39,1202.14 134.57,1199.48 136.75,1196.82 138.93,1194.17 141.11,1191.52 143.29,1188.87 145.47,1186.23 147.65,1183.59 149.84,1180.94 152.02,1178.31 154.20,1175.67 156.38,1173.04 158.56,1170.40 160.74,1167.78 162.92,1165.15 165.10,1162.52 167.28,1159.90 169.46,1157.28 171.64,1154.67 173.82,1152.05 176.01,1149.44 178.19,1146.83 180.37,1144.23 182.55,1141.62 184.73,1139.02 186.91,1136.43 189.09,1133.83 191.27,1131.24 193.45,1128.65 195.63,1126.06 197.81,1123.48 199.99,1120.90 202.17,1118.32 204.36,1115.74 206.54,1113.17 208.72,1110.60 210.90,1108.03 213.08,1105.47 215.26,1102.91 217.44,1100.35 219.62,1097.80 221.80,1095.25 223.98,1092.70 226.16,1090.15 228.34,1087.61 230.53,1085.07 232.71,1082.54 234.89,1080.01 237.07,1077.48 239.25,1074.95 241.43,1072.43 243.61,1069.91 245.79,1067.40 247.97,1064.89 250.15,1062.38 252.33,1059.87 254.51,1057.37 256.70,1054.87 258.88,1052.38 261.06,1049.89 263.24,1047.40 265.42,1044.92 267.60,1042.44 269.78,1039.97 271.96,1037.50 274.14,1035.03 276.32,1032.57 278.50,1030.11 280.68,1027.65 282.87,1025.20 285.05,1022.75 287.23,1020.31 289.41,1017.87 291.59,1015.44 293.77,1013.00 295.95,1010.58 298.13,1008.16 300.31,1005.74 302.49,1003.32 304.67,1000.91 306.85,998.51 309.03,996.11 311.22,993.71 313.40,991.32 315.58,988.93 317.76,986.55 319.94,984.17 322.12,981.80 324.30,979.43 326.48,977.07 328.66,974.71 330.84,972.36 333.02,970.01 335.20,967.67 337.39,965.33 339.57,962.99 341.75,960.67 343.93,958.34 346.11,956.03 348.29,953.71 350.47,951.40 352.65,949.10 354.83,946.81 357.01,944.51 359.19,942.23 361.37,939.95 363.56,937.67 365.74,935.41 367.92,933.14 370.10,930.89 372.28,928.63 374.46,926.39 376.64,924.15 378.82,921.91 381.00,919.69 383.18,917.47 385.36,915.25 387.54,913.04 389.72,910.84 391.91,908.64 394.09,906.45 396.27,904.27 398.45,902.09 400.63,899.92 402.81,897.75 404.99,895.60 407.17,893.45 409.35,891.30 411.53,889.17 413.71,887.04 415.89,884.91 418.08,882.80 420.26,880.69 422.44,878.59 424.62,876.49 426.80,874.41 428.98,872.33 431.16,870.26 433.34,868.19 435.52,866.13 437.70,864.09 439.88,862.05 442.06,860.01 444.25,857.99 446.43,855.97 448.61,853.96 450.79,851.96 452.97,849.97 455.15,847.98 457.33,846.01 459.51,844.04 461.69,842.08 463.87,840.13 466.05,838.19 468.23,836.26 470.42,834.34 472.60,832.42 474.78,830.52 476.96,828.62 479.14,826.73 481.32,824.86 483.50,822.99 485.68,821.13 487.86,819.28 490.04,817.44 492.22,815.62 494.40,813.80 496.58,811.99 498.77,810.19 500.95,808.40 503.13,806.63 505.31,804.86 507.49,803.10 509.67,801.36 511.85,799.62 514.03,797.90 516.21,796.19 518.39,794.48 520.57,792.79 522.75,791.12 524.94,789.45 527.12,787.79 529.30,786.15 531.48,784.52 533.66,782.90 535.84,781.29 538.02,779.69 540.20,778.11 542.38,776.54 544.56,774.98 546.74,773.44 548.92,771.91 551.11,770.39 553.29,768.88 555.47,767.39 557.65,765.91 559.83,764.45 562.01,763.00 564.19,761.56 566.37,760.14 568.55,758.73 570.73,757.34 572.91,755.96 575.09,754.59 577.27,753.24 579.46,751.91 581.64,750.59 583.82,749.29 586.00,748.00 588.18,746.73 590.36,745.47 592.54,744.23 594.72,743.01 596.90,741.80 599.08,740.61 601.26,739.44 603.44,738.28 605.63,737.14 607.81,736.02 609.99,734.92 612.17,733.83 614.35,732.76 616.53,731.71 618.71,730.68 620.89,729.67 623.07,728.68 625.25,727.70 627.43,726.75 629.61,725.81 631.80,724.90 633.98,724.00 636.16,723.13 638.34,722.28 640.52,721.44 642.70,720.63 644.88,719.84 647.06,719.07 649.24,718.33 651.42,717.60 653.60,716.90 655.78,716.22 657.96,715.57 660.15,714.93 662.33,714.32 664.51,713.74 666.69,713.18 668.87,712.64 671.05,712.13 673.23,711.64 675.41,711.18 677.59,710.75 679.77,710.34 681.95,709.96 684.13,709.60 686.32,709.27 688.50,708.97 690.68,708.70 692.86,708.45 695.04,708.23 697.22,708.05 699.40,707.89 701.58,707.76 703.76,707.66 705.94,707.59 708.12,707.56 710.30,707.55 712.49,707.58 714.67,707.64 716.85,707.73 719.03,707.85 721.21,708.01 723.39,708.20 725.57,708.43 727.75,708.69 729.93,708.99 732.11,709.32 734.29,709.69 736.47,710.09 738.66,710.54 740.84,711.02 743.02,711.54 745.20,712.10 747.38,712.70 749.56,713.34 751.74,714.02 753.92,714.74 756.10,715.51 758.28,716.31 760.46,717.16 762.64,718.06 764.82,719.00 767.01,719.98 769.19,721.01 771.37,722.09 773.55,723.21 775.73,724.39 777.91,725.61 780.09,726.88 782.27,728.20 784.45,729.58 786.63,731.00 788.81,732.48 790.99,734.01 793.18,735.60 795.36,737.24 797.54,738.94 799.72,740.69 801.90,742.50 804.08,744.38 806.26,746.31 808.44,748.30 810.62,750.36 812.80,752.48 814.98,754.66 817.16,756.91 819.35,759.22 821.53,761.60 823.71,764.05 825.89,766.57 828.07,769.16 830.25,771.83 832.43,774.56 834.61,777.37 836.79,780.26 838.97,783.23 841.15,786.27 843.33,789.39 845.51,792.60 847.70,795.89 849.88,799.26 852.06,802.72 854.24,806.27 856.42,809.90 858.60,813.63 860.78,817.45 862.96,821.36 865.14,825.38 867.32,829.48 869.50,833.69 871.68,838.01 873.87,842.42 876.05,846.94 878.23,851.57 880.41,856.31 882.59,861.16 884.77,866.13 886.95,871.21 889.13,876.42 891.31,881.74 893.49,887.19 895.67,892.77 897.85,898.47 900.04,904.31 902.22,910.28 904.40,916.39 906.58,922.64 908.76,929.04 910.94,935.58 913.12,942.28 915.30,949.12 917.48,956.13 919.66,963.29 921.84,970.62 924.02,978.11 926.21,985.78 928.39,993.62 930.57,1001.65 932.75,1009.86 934.93,1018.25 937.11,1026.84 939.29,1035.62 941.47,1044.61 943.65,1053.81 945.83,1063.21 948.01,1072.84 950.19,1082.68 952.37,1092.76 954.56,1103.07 956.74,1113.62 958.92,1124.41 961.10,1135.46 963.28,1146.77 965.46,1158.34 967.64,1170.19 969.82,1182.31 972.00,1194.73 974.18,1207.44 976.36,1220.45 978.54,1233.78" fill="none" stroke="#050708" stroke-width="4.9" stroke-linejoin="round" clip-path="url(#cb)"/>
<path d="M119.4 74.4H237.8" stroke="#050708" stroke-width="4.6" fill="none"/>
<path d="M119.4 114.2H238.9" stroke="#050708" stroke-width="4.0" fill="none" stroke-dasharray="21.6 16"/>
<path d="M119.4 158.2H242.0" stroke="#050708" stroke-width="4.8" fill="none" stroke-dasharray="59.7 7.8 9 12.2"/>
<path d="M136.4 709.2H255.1" stroke="#050708" stroke-width="4.6" fill="none"/>
<path d="M136.4 749.3H256.7" stroke="#050708" stroke-width="4.0" fill="none" stroke-dasharray="21.6 16"/>
<path d="M136.4 792.8H258.7" stroke="#050708" stroke-width="4.8" fill="none" stroke-dasharray="59.7 7.8 9 12.2"/>
<text transform="translate(33.30,64.20) scale(1.02,1)" font-family='"DejaVu Sans","Liberation Sans",sans-serif' font-size="31.3" letter-spacing="0.2">0.<tspan dx="5.6">4</tspan></text>
<text transform="translate(33.30,198.00) scale(1.02,1)" font-family='"DejaVu Sans","Liberation Sans",sans-serif' font-size="31.3" letter-spacing="0.2">0.<tspan dx="5.6">3</tspan></text>
<text transform="translate(33.30,331.80) scale(1.02,1)" font-family='"DejaVu Sans","Liberation Sans",sans-serif' font-size="31.3" letter-spacing="0.2">0.<tspan dx="5.6">2</tspan></text>
<text transform="translate(33.30,465.40) scale(1.02,1)" font-family='"DejaVu Sans","Liberation Sans",sans-serif' font-size="31.3" letter-spacing="0.2">0.<tspan dx="5.6">1</tspan></text>
<text transform="translate(51.80,620.70) scale(1.0200,1)" font-family='"DejaVu Sans","Liberation Sans",sans-serif' font-size="31.30" letter-spacing="0.663">0.0</text>
<text transform="translate(193.90,625.10) scale(1.0200,1)" font-family='"DejaVu Sans","Liberation Sans",sans-serif' font-size="31.30" letter-spacing="0.528">0.1</text>
<text transform="translate(420.95,625.10) scale(1.0200,1)" font-family='"DejaVu Sans","Liberation Sans",sans-serif' font-size="31.30" letter-spacing="1.342">0.3</text>
<text transform="translate(660.70,625.10) scale(1.0200,1)" font-family='"DejaVu Sans","Liberation Sans",sans-serif' font-size="31.30" letter-spacing="-0.528">0.5</text>
<text transform="translate(896.70,625.10) scale(1.0200,1)" font-family='"DejaVu Sans","Liberation Sans",sans-serif' font-size="31.30" letter-spacing="1.157">0.7</text>
<text transform="translate(21.50,764.90) scale(1.0200,1)" font-family='"DejaVu Sans","Liberation Sans",sans-serif' font-size="31.30" letter-spacing="0.657">0.25</text>
<text transform="translate(21.50,956.10) scale(1.0200,1)" font-family='"DejaVu Sans","Liberation Sans",sans-serif' font-size="31.30" letter-spacing="0.722">0.15</text>
<text transform="translate(21.50,1146.30) scale(1.0200,1)" font-family='"DejaVu Sans","Liberation Sans",sans-serif' font-size="31.30" letter-spacing="0.657">0.05</text>
<text transform="translate(55.70,1263.30) scale(1.0200,1)" font-family='"DejaVu Sans","Liberation Sans",sans-serif' font-size="31.30" letter-spacing="-0.073">0.0</text>
<text transform="translate(198.60,1267.60) scale(1.0200,1)" font-family='"DejaVu Sans","Liberation Sans",sans-serif' font-size="31.30" letter-spacing="-1.579">0.1</text>
<text transform="translate(430.80,1267.60) scale(1.0200,1)" font-family='"DejaVu Sans","Liberation Sans",sans-serif' font-size="31.30" letter-spacing="0.926">0.3</text>
<text transform="translate(662.70,1267.60) scale(1.0200,1)" font-family='"DejaVu Sans","Liberation Sans",sans-serif' font-size="31.30" letter-spacing="1.089">0.5</text>
<text transform="translate(894.70,1267.60) scale(1.0200,1)" font-family='"DejaVu Sans","Liberation Sans",sans-serif' font-size="31.30" letter-spacing="1.255">0.7</text>
<text transform="translate(266.72,81.60) scale(1.0200,1)" font-family='"DejaVu Sans","Liberation Sans",sans-serif' font-size="30.40" fill="#0a0a0a" stroke="#0a0a0a" stroke-width="0.35" letter-spacing="0.031">Power</text>
<text transform="translate(266.72,122.50) scale(1.0200,1)" font-family='"DejaVu Sans","Liberation Sans",sans-serif' font-size="30.40" fill="#0a0a0a" stroke="#0a0a0a" stroke-width="0.35" letter-spacing="-0.008">Ecological</text>
<text transform="translate(257.76,168.40) scale(1.0200,1)" font-family='"DejaVu Sans","Liberation Sans",sans-serif' font-size="30.40" fill="#0a0a0a" stroke="#0a0a0a" stroke-width="0.35" letter-spacing="0.331">Efficient-power</text>
<text transform="translate(284.46,717.30) scale(1.0200,1)" font-family='"DejaVu Sans","Liberation Sans",sans-serif' font-size="30.40" fill="#0a0a0a" stroke="#0a0a0a" stroke-width="0.35" letter-spacing="0.193">Power</text>
<text transform="translate(284.46,758.30) scale(1.0200,1)" font-family='"DejaVu Sans","Liberation Sans",sans-serif' font-size="30.40" fill="#0a0a0a" stroke="#0a0a0a" stroke-width="0.35" letter-spacing="-0.088">Ecological</text>
<text transform="translate(273.81,802.70) scale(1.0200,1)" font-family='"DejaVu Sans","Liberation Sans",sans-serif' font-size="30.40" fill="#0a0a0a" stroke="#0a0a0a" stroke-width="0.35" letter-spacing="0.432">Efficient-power</text>
<text transform="translate(833.58,80.30) scale(1.0200,1)" font-family='"DejaVu Sans","Liberation Sans",sans-serif' font-size="26.50" letter-spacing="0.841">f=0.5</text>
<text transform="translate(832.58,117.60) scale(1.0734,1)" font-family='"DejaVu Sans","Liberation Sans",sans-serif' font-size="26.50">A</text>
<text transform="translate(852.98,120.50) scale(1.2774,1)" font-family='"DejaVu Sans","Liberation Sans",sans-serif' font-size="19.30">R</text>
<text transform="translate(872.03,117.60) scale(0.9525,1)" font-family='"DejaVu Sans","Liberation Sans",sans-serif' font-size="26.50">=</text>
<text transform="translate(894.69,117.60) scale(0.9650,1)" font-family='"DejaVu Sans","Liberation Sans",sans-serif' font-size="26.50">1</text>
<text transform="translate(887.58,780.40) scale(1.0200,1)" font-family='"DejaVu Sans","Liberation Sans",sans-serif' font-size="26.50" letter-spacing="0.975">f=0.7</text>
<text transform="translate(876.37,813.60) scale(1.0960,1)" font-family='"DejaVu Sans","Liberation Sans",sans-serif' font-size="26.50">A</text>
<text transform="translate(896.68,816.40) scale(1.3321,1)" font-family='"DejaVu Sans","Liberation Sans",sans-serif' font-size="19.30">R</text>
<text transform="translate(915.44,813.60) scale(1.0200,1)" font-family='"DejaVu Sans","Liberation Sans",sans-serif' font-size="26.50" letter-spacing="0.684">=0.5</text>
<text transform="translate(934.11,81.00) scale(1.0374,1)" font-family='"DejaVu Sans","Liberation Sans",sans-serif' font-size="48.00">a</text>
<text transform="translate(962.89,84.60) scale(1.1242,1)" font-family='"DejaVu Sans","Liberation Sans",sans-serif' font-size="51.20">)</text>
<text transform="translate(936.90,739.00) scale(0.9934,1)" font-family='"DejaVu Sans","Liberation Sans",sans-serif' font-size="46.50">b</text>
<text transform="translate(965.58,742.30) scale(1.1663,1)" font-family='"DejaVu Sans","Liberation Sans",sans-serif' font-size="50.50">)</text>
<text transform="translate(20.62,134.50) scale(0.9526,1)" font-family='"DejaVu Sans","Liberation Sans",sans-serif' font-size="43.60">F</text>
<rect x="17.0" y="89.0" width="29.9" height="3.8" fill="#050708"/>
<text transform="translate(23.30,822.10) scale(0.9603,1)" font-family='"DejaVu Sans","Liberation Sans",sans-serif' font-size="43.50">F</text>
<rect x="19.7" y="777.0" width="30.1" height="3.8" fill="#050708"/>
<text transform="translate(803.71,631.90) scale(1.0388,1)" font-family='"Liberation Serif","DejaVu Serif",serif' font-size="55.00">η</text>
<text transform="translate(807.33,1278.70) scale(1.0648,1)" font-family='"Liberation Serif","DejaVu Serif",serif' font-size="55.00">η</text>
</svg>
</body></html>
